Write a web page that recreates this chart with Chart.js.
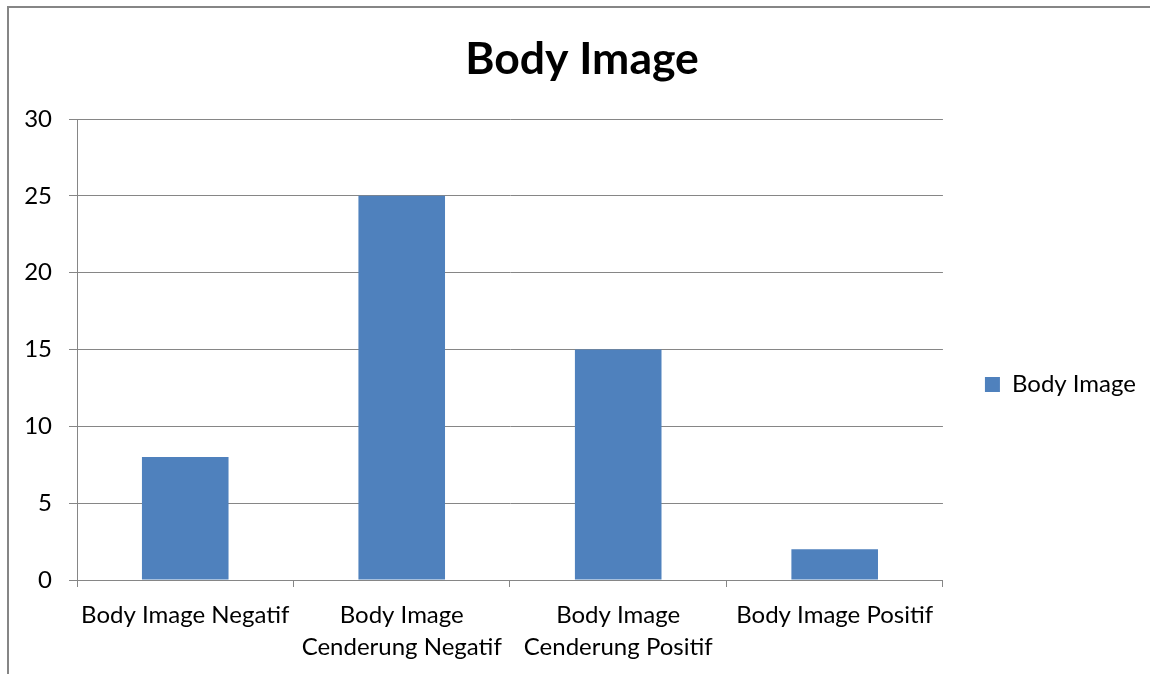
<!DOCTYPE html>
<html lang="id">
<head>
    <meta charset="UTF-8">
    <title>Body Image</title>
    <script src="https://cdn.jsdelivr.net/npm/chart.js"></script>
    <style>
        body { margin: 0; background: #fff; }
        #wrap { width: 1150px; height: 674px; position: relative; }
    </style>
</head>
<body>
    <div id="wrap">
        <canvas id="grafico"></canvas>
    </div>
<script>
    // dados do grafico
    var kategori = [
        ['Body Image Negatif'],
        ['Body Image', 'Cenderung Negatif'],
        ['Body Image', 'Cenderung Positif'],
        ['Body Image Positif']
    ];
    var nilai = [8, 25, 15, 2];
    var namaSeri = 'Body Image';
    var judul = 'Body Image';
    var yMin = 0;
    var yMax = 30;
    var yStep = 5;

    var abu = '#868686';
    var fonte = 'Lato, "Open Sans", sans-serif';

    // moldura do grafico (estilo Excel: so topo e esquerda aparecem)
    var moldura = {
        id: 'moldura',
        afterDraw: function (chart) {
            var c = chart.ctx;
            c.save();
            c.strokeStyle = abu;
            c.lineWidth = 2;
            c.beginPath();
            c.moveTo(8, chart.height);
            c.lineTo(8, 7);
            c.lineTo(chart.width, 7);
            c.stroke();
            c.restore();
        }
    };

    var ctx = document.getElementById('grafico').getContext('2d');

    var grafico = new Chart(ctx, {
        type: 'bar',
        data: {
            labels: kategori,
            datasets: [{
                label: namaSeri,
                data: nilai,
                backgroundColor: '#4F81BD',
                borderWidth: 0,
                barPercentage: 0.4,
                categoryPercentage: 1.0
            }]
        },
        options: {
            responsive: true,
            maintainAspectRatio: false,
            animation: false,
            layout: {
                padding: { left: 18, right: 4, top: 0, bottom: 0 }
            },
            plugins: {
                title: {
                    display: true,
                    text: judul,
                    color: '#000',
                    font: { family: fonte, size: 44.5, weight: 'bold', lineHeight: 1.2 },
                    padding: { top: 33, bottom: 32.6 }
                },
                legend: {
                    position: 'right',
                    fullSize: false,
                    // titulo vazio so para empurrar o item pra baixo
                    title: {
                        display: true,
                        text: '',
                        font: { size: 12, lineHeight: 1.2 },
                        padding: { top: 55.6, bottom: 0 }
                    },
                    labels: {
                        boxWidth: 15,
                        boxHeight: 15,
                        padding: 42,
                        color: '#000',
                        font: { family: fonte, size: 24 }
                    }
                },
                tooltip: { enabled: false }
            },
            scales: {
                x: {
                    afterFit: function (scale) { scale.height = 94; },
                    grid: {
                        drawOnChartArea: false,
                        drawTicks: true,
                        tickLength: 7,
                        color: abu
                    },
                    border: { color: abu, width: 1 },
                    ticks: {
                        color: '#000',
                        padding: 12,
                        maxRotation: 0,
                        autoSkip: false,
                        font: { family: fonte, size: 24, lineHeight: 1.333 }
                    }
                },
                y: {
                    min: yMin,
                    max: yMax,
                    afterFit: function (scale) { scale.width = 59; },
                    grid: {
                        color: abu,
                        tickLength: 8
                    },
                    border: { color: abu, width: 1 },
                    ticks: {
                        stepSize: yStep,
                        color: '#000',
                        padding: 17,
                        font: { family: fonte, size: 24 }
                    }
                }
            }
        },
        plugins: [moldura]
    });
</script>
</body>
</html>
